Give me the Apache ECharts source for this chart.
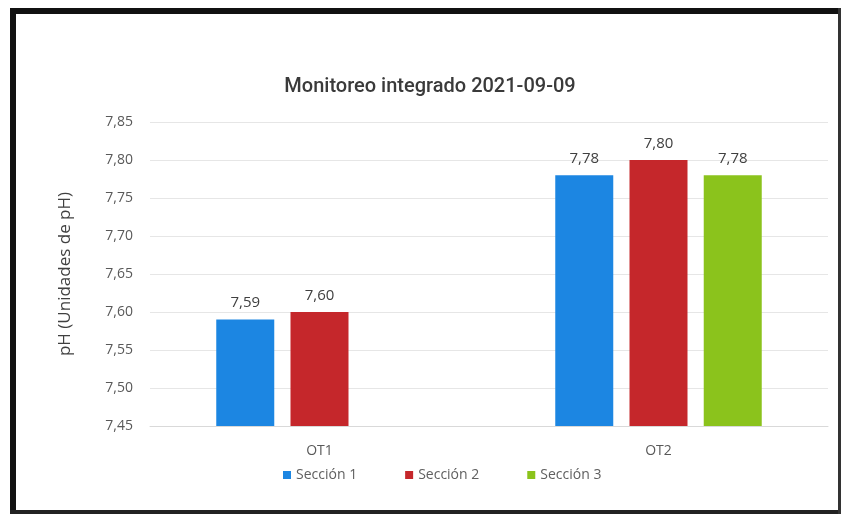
<!DOCTYPE html>
<html>
<head>
<meta charset="utf-8">
<script src="https://cdn.jsdelivr.net/npm/echarts@6/dist/echarts.min.js"></script>
<style>
  html, body { margin: 0; padding: 0; background: #fff; }
  #chart { width: 844px; height: 515px; }
</style>
</head>
<body>
<div id="chart"></div>
<script>
// pH readings per monitoring point and section
const categories = ['OT1', 'OT2'];
const seriesNames = ['Sección 1', 'Sección 2', 'Sección 3'];
const seccion1 = [7.59, 7.78];
const seccion2 = [7.60, 7.80];
const seccion3 = [null, 7.78];
const yMin = 7.45;
const yMax = 7.85;
const yStep = 0.05;

const colors = ['#1c86e2', '#c5272b', '#8bc31c'];
const fmt = v => v.toFixed(2).replace('.', ',');
const bodyFont = 'Open Sans, Liberation Sans, Arial, sans-serif';

const chart = echarts.init(document.getElementById('chart'), null, { renderer: 'canvas' });

const barLabel = {
  show: true,
  position: 'top',
  distance: 9,
  color: '#404040',
  fontFamily: bodyFont,
  fontSize: 15,
  formatter: p => fmt(p.value)
};

function bar(name, data, color) {
  return {
    name: name,
    type: 'bar',
    data: data,
    barWidth: 58,
    barGap: '28%',
    itemStyle: { color: color },
    label: barLabel
  };
}

chart.setOption({
  animation: false,
  backgroundColor: '#ffffff',
  title: {
    text: 'Monitoreo integrado 2021-09-09',
    left: 425,
    textAlign: 'center',
    top: 72,
    textStyle: {
      fontFamily: 'Roboto, Liberation Sans, Arial, sans-serif',
      fontSize: 20,
      fontWeight: 500,
      color: '#3a3a3a'
    }
  },
  legend: {
    data: seriesNames,
    bottom: 28,
    left: 278,
    itemWidth: 8,
    itemHeight: 8,
    itemGap: 48,
    icon: 'rect',
    textStyle: {
      fontFamily: bodyFont,
      fontSize: 14,
      color: '#606060'
    }
  },
  grid: { left: 150, right: 16, top: 122, bottom: 89 },
  xAxis: {
    type: 'category',
    data: categories,
    axisLine: { show: true, lineStyle: { color: '#d9d9d9', width: 1 } },
    axisTick: { show: false },
    axisLabel: {
      margin: 18,
      fontFamily: bodyFont,
      fontSize: 14,
      color: '#595959'
    }
  },
  yAxis: {
    type: 'value',
    min: yMin,
    max: yMax,
    interval: yStep,
    name: 'pH (Unidades de pH)',
    nameLocation: 'middle',
    nameGap: 76,
    nameTextStyle: {
      fontFamily: bodyFont,
      fontSize: 17,
      color: '#404040'
    },
    axisLine: { show: false },
    axisTick: { show: false },
    axisLabel: {
      margin: 17,
      fontFamily: bodyFont,
      fontSize: 14,
      color: '#595959',
      formatter: v => fmt(v)
    },
    splitLine: { lineStyle: { color: '#e6e6e6', width: 1 } }
  },
  series: [
    bar(seriesNames[0], seccion1, colors[0]),
    bar(seriesNames[1], seccion2, colors[1]),
    bar(seriesNames[2], seccion3, colors[2])
  ],
  graphic: [
    // frame around the chart area
    { type: 'rect', shape: { x: 10, y: 8, width: 6, height: 506 }, style: { fill: '#111' } },
    { type: 'rect', shape: { x: 10, y: 8, width: 831, height: 6 }, style: { fill: '#111' } },
    { type: 'rect', shape: { x: 10, y: 510, width: 831, height: 4 }, style: { fill: '#222' } },
    { type: 'rect', shape: { x: 838, y: 8, width: 3, height: 506 }, style: { fill: '#333' } }
  ]
});
</script>
</body>
</html>
